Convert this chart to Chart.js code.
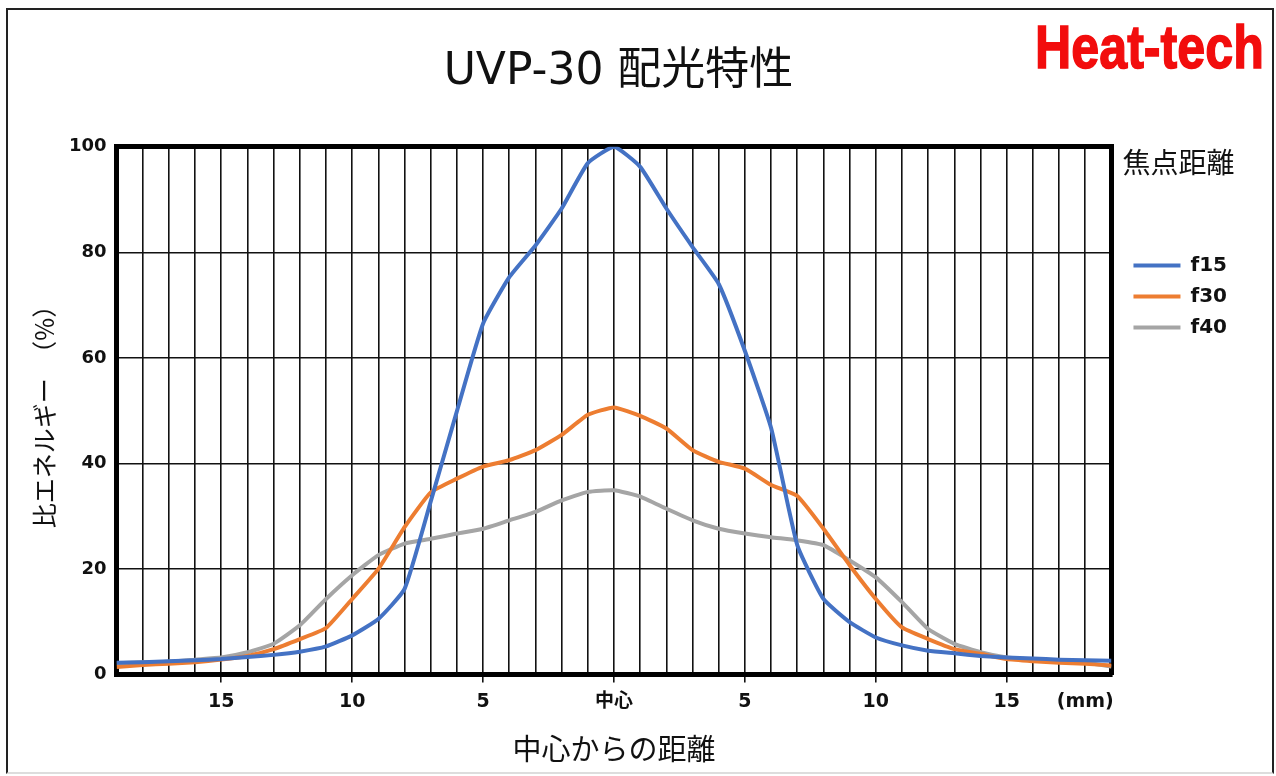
<!DOCTYPE html>
<html lang="ja">

<head>
    <meta charset="UTF-8">
    <title>UVP-30 配光特性</title>

    <style>
        body {
            margin: 0;
            background: #fff;
        }

        .wrap {
            position: relative;
            width: 1276px;
            height: 776px;
        }

        .frame {
            position: absolute;
            left: 6px;
            top: 8px;
            width: 1264px;
            height: 762px;
            border: 2px solid #222;
            border-bottom-color: #ddd;
            pointer-events: none;
        }

        .logo {
            position: absolute;
            left: 1035px;
            top: 16px;
            white-space: nowrap;
            font-family: "Liberation Sans", sans-serif;
            font-weight: bold;
            font-size: 62px;
            line-height: 1;
            color: #f20d0d;
            transform: scaleX(0.81);
            transform-origin: left top;
            -webkit-text-stroke: 1.5px #f20d0d;
        }

        canvas {
            position: absolute;
            left: 0;
            top: 0;
        }
    </style>
</head>

<body>
    <div class="wrap">
        <canvas id="chart" width="1276" height="776"></canvas>
        <div class="frame"></div>
        <div class="logo">Heat-tech</div>
    </div>

    <script src="https://cdn.jsdelivr.net/npm/chart.js"></script>

    <script>
        // distance from centre (mm), one point per mm
        const distances = [-19, -18, -17, -16, -15, -14, -13, -12, -11, -10, -9, -8, -7, -6, -5, -4, -3, -2, -1, 0,
            1, 2, 3, 4, 5, 6, 7, 8, 9, 10, 11, 12, 13, 14, 15, 16, 17, 18, 19];

        const f15 = [2.2, 2.3, 2.5, 2.7, 2.9, 3.3, 3.7, 4.3, 5.3, 7.4, 10.5, 16.2, 32.8, 49.9, 66.5, 75.3, 81.3, 88.3, 96.9, 100,
            96.2, 88.3, 81.0, 74.0, 61.3, 46.7, 24.5, 14.3, 9.9, 7.0, 5.5, 4.5, 4.0, 3.5, 3.2, 3.0, 2.8, 2.7, 2.6];
        const f30 = [1.4, 1.8, 2.0, 2.3, 2.8, 3.5, 4.8, 6.7, 8.8, 14.3, 20.0, 27.9, 34.5, 37.1, 39.4, 40.6, 42.5, 45.4, 49.2, 50.6,
            49.0, 46.6, 42.5, 40.3, 39.0, 35.9, 33.8, 27.6, 20.7, 14.3, 8.9, 6.7, 4.8, 3.9, 2.9, 2.5, 2.2, 2.0, 1.7];
        const f40 = [2.1, 2.3, 2.4, 2.8, 3.2, 4.2, 5.8, 9.3, 14.3, 18.8, 22.6, 24.8, 25.7, 26.7, 27.6, 29.2, 30.8, 33.0, 34.6, 34.9,
            33.7, 31.4, 29.2, 27.6, 26.7, 26.0, 25.4, 24.5, 21.6, 18.4, 13.7, 8.6, 5.8, 4.2, 3.2, 2.8, 2.5, 2.2, 1.5];

        // x tick labels (only these positions get a label)
        const labelPositions = [-15, -10, -5, 0, 5, 10, 15, 18];
        const labelTexts = ['15', '10', '5', '中心', '5', '10', '15', '(mm)'];
        const markedTicks = [-15, -10, -5, 0, 5, 10, 15];

        const seriesNames = ['f15', 'f30', 'f40'];
        const seriesColors = ['#4472c4', '#ed7d31', '#a5a5a5'];

        const numFont = '"DejaVu Sans", "Noto Sans CJK JP", sans-serif';
        const jpFont = '"Noto Sans CJK JP", sans-serif';

        function toPoints(values) {
            return distances.map((d, i) => ({ x: d, y: values[i] }));
        }

        const datasets = [f15, f30, f40].map((values, i) => ({
            label: seriesNames[i],
            data: toPoints(values),
            borderColor: seriesColors[i],
            backgroundColor: seriesColors[i],
            borderWidth: 4,
            pointRadius: 0,
            tension: 0.15,
            xAxisID: 'x',
            yAxisID: 'y'
        }));

        let ctx = document.getElementById("chart").getContext("2d");
        let chart = new Chart(ctx, {
            type: "line",
            data: { datasets: datasets },
            options: {
                responsive: false,
                animation: false,
                layout: {
                    padding: { left: 0, right: 39, top: 0, bottom: 0 }
                },
                plugins: {
                    title: {
                        display: true,
                        text: 'UVP-30 配光特性',
                        color: '#111',
                        font: { family: numFont, size: 44, weight: 'normal' },
                        padding: { top: 46, bottom: 48 }
                    },
                    legend: {
                        position: 'right',
                        align: 'start',
                        fullSize: false,
                        title: {
                            display: true,
                            text: '焦点距離',
                            position: 'start',
                            color: '#111',
                            font: { family: jpFont, size: 28, weight: 'normal' },
                            padding: { top: 2, bottom: 62 }
                        },
                        labels: {
                            boxWidth: 47,
                            boxHeight: 4,
                            padding: 11,
                            color: '#111',
                            font: { family: numFont, size: 20, weight: 'bold' },
                            generateLabels: c => Chart.defaults.plugins.legend.labels.generateLabels(c)
                                .map(l => ({ ...l, lineWidth: 0, fillStyle: l.strokeStyle }))
                        }
                    },
                    tooltip: { enabled: false }
                },
                scales: {
                    x: {
                        type: 'linear',
                        position: 'bottom',
                        min: -19,
                        max: 19,
                        afterBuildTicks: scale => {
                            scale.ticks = distances.map(v => ({ value: v }));
                        },
                        grid: {
                            color: '#111',
                            lineWidth: 1.6,
                            tickLength: 8,
                            tickColor: c => (c.tick && markedTicks.includes(c.tick.value)) ? '#111' : 'rgba(0,0,0,0)'
                        },
                        border: { color: '#000', width: 5 },
                        ticks: {
                            autoSkip: false,
                            maxRotation: 0,
                            padding: 8,
                            color: '#111',
                            font: { family: numFont, size: 19, weight: 'bold' },
                            callback: value => {
                                const i = labelPositions.indexOf(value);
                                return i >= 0 ? labelTexts[i] : '';
                            }
                        },
                        title: {
                            display: true,
                            text: '中心からの距離',
                            color: '#111',
                            font: { family: jpFont, size: 29, weight: 'normal' },
                            padding: { top: 10, bottom: 10 }
                        }
                    },
                    xTop: {
                        type: 'linear',
                        axis: 'x',
                        position: 'top',
                        min: -19,
                        max: 19,
                        grid: { display: false, drawTicks: false },
                        ticks: { display: false },
                        border: { color: '#000', width: 5 }
                    },
                    y: {
                        min: 0,
                        max: 100,
                        ticks: {
                            stepSize: 20,
                            padding: 10,
                            color: '#111',
                            font: { family: numFont, size: 18, weight: 'bold' }
                        },
                        grid: { color: '#111', lineWidth: 1.6, drawTicks: false },
                        border: { color: '#000', width: 5 },
                        title: {
                            display: true,
                            text: '比エネルギー　（%）',
                            color: '#111',
                            font: { family: jpFont, size: 25, weight: 'normal' },
                            padding: { top: 29, bottom: 0 }
                        }
                    },
                    yRight: {
                        type: 'linear',
                        axis: 'y',
                        position: 'right',
                        min: 0,
                        max: 100,
                        grid: { display: false, drawTicks: true, tickLength: 11 },
                        ticks: { display: false },
                        border: { color: '#000', width: 5 }
                    }
                }
            }
        });
    </script>
</body>

</html>
